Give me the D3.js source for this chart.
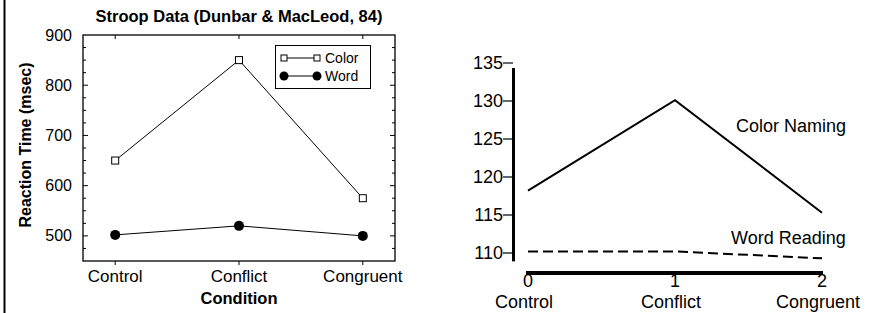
<!DOCTYPE html>
<html>
<head>
<meta charset="utf-8">
<script src="https://cdn.jsdelivr.net/npm/d3@7"></script>
<style>
  body { margin: 0; background: #fff; }
  svg { display: block; font-family: "Liberation Sans", Arial, sans-serif; }
</style>
</head>
<body>
<div id="chart"></div>
<script>
// left panel data
const conditions = ["Control", "Conflict", "Congruent"];
const colorRT = [650, 850, 575];
const wordRT = [502, 520, 500];
const leftTicks = [500, 600, 700, 800, 900];

// right panel data
const rightX = [0, 1, 2];
const colorNaming = [118.2, 130.1, 115.3];
const wordReading = [110.2, 110.2, 109.3];
const rightTicks = [110, 115, 120, 125, 130, 135];

const svg = d3.select("#chart")
  .append("svg")
  .attr("width", 882)
  .attr("height", 313);

// left border line
svg.append("line")
  .attr("x1", 4.5).attr("x2", 4.5)
  .attr("y1", 0).attr("y2", 313)
  .attr("stroke", "#000").attr("stroke-width", 2);

// ---------- left chart ----------
const L = { left: 83, right: 395, top: 35, bottom: 261 };

const xL = d3.scalePoint()
  .domain(conditions)
  .range([L.left, L.right])
  .padding(0.26);

const yL = d3.scaleLinear()
  .domain([450, 900])
  .range([L.bottom, L.top]);

const left = svg.append("g");

// frame
left.append("rect")
  .attr("x", L.left).attr("y", L.top)
  .attr("width", L.right - L.left)
  .attr("height", L.bottom - L.top)
  .attr("fill", "none")
  .attr("stroke", "#000")
  .attr("stroke-width", 1.3);

// y ticks on left and right sides (inward), minor every 25
const minorL = d3.range(475, 900, 25);
minorL.forEach(v => {
  const major = v % 100 === 0;
  const len = major ? 5 : 3;
  left.append("line")
    .attr("x1", L.left).attr("x2", L.left + len)
    .attr("y1", yL(v)).attr("y2", yL(v))
    .attr("stroke", "#000");
  left.append("line")
    .attr("x1", L.right).attr("x2", L.right - len)
    .attr("y1", yL(v)).attr("y2", yL(v))
    .attr("stroke", "#000");
});

// y tick labels
left.selectAll(".ylab")
  .data(leftTicks)
  .enter()
  .append("text")
  .attr("x", L.left - 11)
  .attr("y", d => yL(d))
  .attr("dy", "0.35em")
  .attr("text-anchor", "end")
  .style("font-size", "16px")
  .text(d => d);

// x ticks: top inward, bottom outward
conditions.forEach(c => {
  left.append("line")
    .attr("x1", xL(c)).attr("x2", xL(c))
    .attr("y1", L.top).attr("y2", L.top + 4)
    .attr("stroke", "#000");
  left.append("line")
    .attr("x1", xL(c)).attr("x2", xL(c))
    .attr("y1", L.bottom).attr("y2", L.bottom + 4)
    .attr("stroke", "#000");
});

left.selectAll(".xlab")
  .data(conditions)
  .enter()
  .append("text")
  .attr("x", d => xL(d))
  .attr("y", 282)
  .attr("text-anchor", "middle")
  .style("font-size", "17px")
  .text(d => d);

// axis titles
left.append("text")
  .attr("x", xL("Conflict"))
  .attr("y", 304)
  .attr("text-anchor", "middle")
  .style("font-size", "16.5px")
  .style("font-weight", "bold")
  .text("Condition");

left.append("text")
  .attr("transform", `translate(31, ${(L.top + L.bottom) / 2 - 3}) rotate(-90)`)
  .attr("text-anchor", "middle")
  .style("font-size", "16px")
  .style("font-weight", "bold")
  .text("Reaction Time (msec)");

left.append("text")
  .attr("x", (L.left + L.right) / 2)
  .attr("y", 22)
  .attr("text-anchor", "middle")
  .style("font-size", "16.5px")
  .style("font-weight", "bold")
  .text("Stroop Data (Dunbar & MacLeod, 84)");

// series lines
const lineL = d3.line()
  .x((d, i) => xL(conditions[i]))
  .y(d => yL(d));

left.append("path")
  .datum(colorRT)
  .attr("d", lineL)
  .attr("fill", "none")
  .attr("stroke", "#000")
  .attr("stroke-width", 1);

left.append("path")
  .datum(wordRT)
  .attr("d", lineL)
  .attr("fill", "none")
  .attr("stroke", "#000")
  .attr("stroke-width", 1);

// markers
left.selectAll(".sq")
  .data(colorRT)
  .enter()
  .append("rect")
  .attr("x", (d, i) => xL(conditions[i]) - 3.5)
  .attr("y", d => yL(d) - 3.5)
  .attr("width", 7).attr("height", 7)
  .attr("fill", "#fff")
  .attr("stroke", "#000");

left.selectAll(".dot")
  .data(wordRT)
  .enter()
  .append("circle")
  .attr("cx", (d, i) => xL(conditions[i]))
  .attr("cy", d => yL(d))
  .attr("r", 5)
  .attr("fill", "#000");

// legend
const leg = left.append("g");
leg.append("rect")
  .attr("x", 275.5).attr("y", 45.5)
  .attr("width", 95).attr("height", 43)
  .attr("fill", "#fff")
  .attr("stroke", "#000");

const legendItems = [
  { label: "Color", y: 58, marker: "square" },
  { label: "Word", y: 76, marker: "circle" }
];
legendItems.forEach(item => {
  leg.append("line")
    .attr("x1", 284).attr("x2", 317)
    .attr("y1", item.y).attr("y2", item.y)
    .attr("stroke", "#000");
  [284, 317].forEach(mx => {
    if (item.marker === "square") {
      leg.append("rect")
        .attr("x", mx - 3).attr("y", item.y - 3)
        .attr("width", 6).attr("height", 6)
        .attr("fill", "#fff").attr("stroke", "#000");
    } else {
      leg.append("circle")
        .attr("cx", mx).attr("cy", item.y).attr("r", 4.5)
        .attr("fill", "#000");
    }
  });
  leg.append("text")
    .attr("x", 325)
    .attr("y", item.y)
    .attr("dy", "0.36em")
    .style("font-size", "14px")
    .text(item.label);
});

// ---------- right chart ----------
const xR = d3.scaleLinear().domain([0, 2]).range([528, 822]);
const yR = d3.scaleLinear().domain([110, 135]).range([253, 63]);

const right = svg.append("g");

// y axis thick line
right.append("line")
  .attr("x1", 513.5).attr("x2", 513.5)
  .attr("y1", 68).attr("y2", yR(108.9))
  .attr("stroke", "#000")
  .attr("stroke-width", 3);

rightTicks.forEach(v => {
  right.append("line")
    .attr("x1", 503).attr("x2", 513)
    .attr("y1", yR(v)).attr("y2", yR(v))
    .attr("stroke", "#000")
    .attr("stroke-width", 1.2);
});

right.selectAll(".rylab")
  .data(rightTicks)
  .enter()
  .append("text")
  .attr("x", 503)
  .attr("y", d => yR(d))
  .attr("dy", "0.35em")
  .attr("text-anchor", "end")
  .style("font-size", "18px")
  .text(d => d);

// x axis thick line
right.append("line")
  .attr("x1", xR(0) - 2).attr("x2", xR(2) + 1)
  .attr("y1", 273).attr("y2", 273)
  .attr("stroke", "#000")
  .attr("stroke-width", 4);

right.selectAll(".rxnum")
  .data(rightX)
  .enter()
  .append("text")
  .attr("x", d => xR(d))
  .attr("y", 287)
  .attr("text-anchor", "middle")
  .style("font-size", "18px")
  .text(d => d);

right.selectAll(".rxlab")
  .data(conditions)
  .enter()
  .append("text")
  .attr("x", (d, i) => xR(rightX[i]) - 4)
  .attr("y", 308)
  .attr("text-anchor", "middle")
  .style("font-size", "18px")
  .text(d => d);

const lineR = d3.line()
  .x((d, i) => xR(rightX[i]))
  .y(d => yR(d));

right.append("path")
  .datum(colorNaming)
  .attr("d", lineR)
  .attr("fill", "none")
  .attr("stroke", "#000")
  .attr("stroke-width", 2);

right.append("path")
  .datum(wordReading)
  .attr("d", lineR)
  .attr("fill", "none")
  .attr("stroke", "#000")
  .attr("stroke-width", 2)
  .attr("stroke-dasharray", "10,5");

right.append("text")
  .attr("x", 736)
  .attr("y", 132)
  .style("font-size", "18px")
  .text("Color Naming");

right.append("text")
  .attr("x", 731)
  .attr("y", 244)
  .style("font-size", "18px")
  .text("Word Reading");
</script>
</body>
</html>
